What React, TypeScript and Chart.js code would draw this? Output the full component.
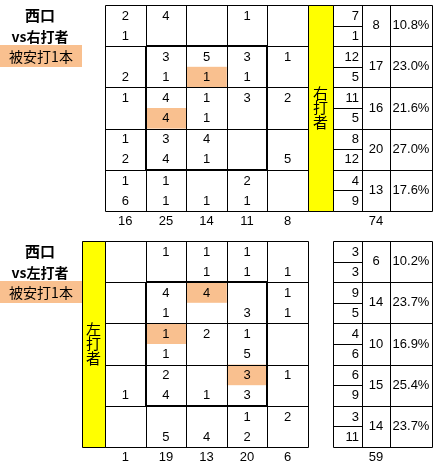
import { useEffect, useRef } from "react"
import { Chart, registerables } from "chart.js"

Chart.register(...registerables)

const W = 438
const H = 468

// vs 右打者 : upper / lower count in each zone cell (0 = blank)
const rUpper = [
  [2, 4, 0, 1, 0],
  [0, 3, 5, 3, 1],
  [1, 4, 1, 3, 2],
  [1, 3, 4, 0, 0],
  [1, 1, 0, 2, 0],
]
const rLower = [
  [1, 0, 0, 0, 0],
  [2, 1, 1, 1, 0],
  [0, 4, 1, 0, 0],
  [2, 4, 1, 0, 5],
  [6, 1, 1, 1, 0],
]
// hits: [row, col, half] half 0 = upper, 1 = lower
const rHits = [[1, 2, 1], [2, 1, 1]]
const rColTotals = [16, 25, 14, 11, 8]
const rRowUpper = [7, 12, 11, 8, 4]
const rRowLower = [1, 5, 5, 12, 9]
const rRowTotals = [8, 17, 16, 20, 13]
const rRowPct = ["10.8%", "23.0%", "21.6%", "27.0%", "17.6%"]
const rTotal = 74

// vs 左打者
const lUpper = [
  [0, 1, 1, 1, 0],
  [0, 4, 4, 0, 1],
  [0, 1, 2, 1, 0],
  [0, 2, 0, 3, 1],
  [0, 0, 0, 1, 2],
]
const lLower = [
  [0, 0, 1, 1, 1],
  [0, 1, 0, 3, 1],
  [0, 1, 0, 5, 0],
  [1, 4, 1, 3, 0],
  [0, 5, 4, 2, 0],
]
const lHits = [[1, 2, 0], [2, 1, 0], [3, 3, 0]]
const lColTotals = [1, 19, 13, 20, 6]
const lRowUpper = [3, 9, 4, 6, 3]
const lRowLower = [3, 5, 6, 9, 11]
const lRowTotals = [6, 14, 10, 15, 14]
const lRowPct = ["10.2%", "23.7%", "16.9%", "25.4%", "23.7%"]
const lTotal = 59

const panels = [
  {
    top: 5, yellowX: 308, name: "西口", vs: "vs右打者", hitsLabel: "被安打1本", side: "右打者",
    upper: rUpper, lower: rLower, hits: rHits, colTotals: rColTotals,
    rowUpper: rRowUpper, rowLower: rRowLower, rowTotals: rRowTotals, rowPct: rRowPct, total: rTotal,
  },
  {
    top: 241, yellowX: 82, name: "西口", vs: "vs左打者", hitsLabel: "被安打1本", side: "左打者",
    upper: lUpper, lower: lLower, hits: lHits, colTotals: lColTotals,
    rowUpper: lRowUpper, rowLower: lRowLower, rowTotals: lRowTotals, rowPct: lRowPct, total: lTotal,
  },
]

const GRID_X = 105
const CELL_W = 40.6
const CELL_H = 41.2
const TABLE_X = [333, 362, 390, 432]
const HIT_COLOR = "#f9c08f"
const NUM_FONT = "13px 'Liberation Sans', Arial, sans-serif"
const JP_FONT = "'Noto Sans CJK JP', sans-serif"

const zonePlugin = {
  id: "zone",
  afterDraw(chart: any) {
    const ctx = chart.ctx as CanvasRenderingContext2D
    const xs = chart.scales.x
    const ys = chart.scales.y
    const X = (v: number) => xs.getPixelForValue(v)
    const Y = (v: number) => ys.getPixelForValue(v)
    const L = (v: number) => Math.round(v) + 0.5

    const line = (x1: number, y1: number, x2: number, y2: number, w = 1) => {
      ctx.lineWidth = w
      ctx.beginPath()
      if (w === 1) {
        ctx.moveTo(L(X(x1)), L(Y(y1)))
        ctx.lineTo(L(X(x2)), L(Y(y2)))
      } else {
        ctx.moveTo(Math.round(X(x1)), Math.round(Y(y1)))
        ctx.lineTo(Math.round(X(x2)), Math.round(Y(y2)))
      }
      ctx.stroke()
    }
    const text = (s: string, x: number, y: number, align: CanvasTextAlign = "center") => {
      ctx.textAlign = align
      ctx.fillText(s, X(x), Y(y))
    }

    ctx.save()
    ctx.strokeStyle = "#000"
    ctx.fillStyle = "#000"
    ctx.textBaseline = "middle"

    panels.forEach((p) => {
      const top = p.top
      const bottom = top + CELL_H * 5
      const gridR = GRID_X + CELL_W * 5
      const colX = (c: number) => GRID_X + CELL_W * c
      const rowY = (r: number) => top + CELL_H * r

      // titles
      ctx.fillStyle = "#000"
      ctx.font = "bold 15px " + JP_FONT
      text(p.name, 40, top + 10)
      ctx.font = "bold 14px " + JP_FONT
      text(p.vs, 40, top + 32)
      ctx.fillStyle = HIT_COLOR
      ctx.fillRect(X(0), Y(top + 40), X(82) - X(0), Y(top + 62) - Y(top + 40))
      ctx.fillStyle = "#000"
      ctx.font = "14px " + JP_FONT
      text(p.hitsLabel, 41, top + 51.5)

      // hit highlights
      ctx.fillStyle = HIT_COLOR
      p.hits.forEach(([r, c, h]) => {
        const y0 = rowY(r) + (CELL_H / 2) * h
        ctx.fillRect(X(colX(c)), Y(y0), X(colX(c + 1)) - X(colX(c)), Y(y0 + CELL_H / 2) - Y(y0))
      })

      // yellow side column
      ctx.fillStyle = "#ffff00"
      const yx0 = p.yellowX
      const yx1 = p.yellowX + (p.yellowX === 82 ? 23 : 25)
      ctx.fillRect(X(yx0), Y(top), X(yx1) - X(yx0), Y(bottom) - Y(top))
      line(yx0, top, yx0, bottom)
      line(yx1, top, yx1, bottom)
      line(yx0, top, yx1, top)
      line(yx0, bottom, yx1, bottom)
      ctx.fillStyle = "#000"
      ctx.font = "15px " + JP_FONT
      const midY = (top + bottom) / 2
      Array.from(p.side).forEach((ch, i) => text(ch, (yx0 + yx1) / 2, midY - 15 + i * 14.5))

      // grid lines
      for (let r = 0; r <= 5; r++) line(GRID_X, rowY(r), gridR, rowY(r))
      for (let c = 0; c <= 5; c++) line(colX(c), top, colX(c), bottom)
      // strike zone box
      line(colX(1), rowY(1), colX(4), rowY(1), 2)
      line(colX(1), rowY(4), colX(4), rowY(4), 2)
      line(colX(1), rowY(1), colX(1), rowY(4), 2)
      line(colX(4), rowY(1), colX(4), rowY(4), 2)

      // cell numbers
      ctx.font = NUM_FONT
      for (let r = 0; r < 5; r++) {
        for (let c = 0; c < 5; c++) {
          const cx = colX(c) + CELL_W / 2
          if (p.upper[r][c]) text(String(p.upper[r][c]), cx, rowY(r) + CELL_H * 0.27)
          if (p.lower[r][c]) text(String(p.lower[r][c]), cx, rowY(r) + CELL_H * 0.76)
        }
      }
      // column totals
      p.colTotals.forEach((v, c) => text(String(v), colX(c) + CELL_W / 2, bottom + 10))

      // right table
      const [t0, t1, t2, t3] = TABLE_X
      for (let r = 0; r <= 5; r++) line(t0, rowY(r), t3, rowY(r))
      TABLE_X.forEach((x) => line(x, top, x, bottom))
      for (let r = 0; r < 5; r++) {
        const y = rowY(r)
        line(t0, y + CELL_H / 2, t1, y + CELL_H / 2)
        text(String(p.rowUpper[r]), t1 - 3, y + CELL_H * 0.27, "right")
        text(String(p.rowLower[r]), t1 - 3, y + CELL_H * 0.76, "right")
        text(String(p.rowTotals[r]), (t1 + t2) / 2, y + CELL_H / 2)
        text(p.rowPct[r], (t2 + t3) / 2, y + CELL_H / 2)
      }
      text(String(p.total), (t1 + t2) / 2, bottom + 10)
    })
    ctx.restore()
  },
}

const App = () => {
  const canvasRef = useRef<HTMLCanvasElement | null>(null)

  useEffect(() => {
    if (!canvasRef.current) return
    const chart = new Chart(canvasRef.current, {
      type: "scatter",
      data: { datasets: [] },
      options: {
        animation: false,
        responsive: true,
        maintainAspectRatio: false,
        layout: { padding: 0 },
        plugins: { legend: { display: false }, tooltip: { enabled: false } },
        scales: {
          x: { type: "linear", min: 0, max: W, display: false },
          y: { type: "linear", min: 0, max: H, reverse: true, display: false },
        },
      },
      plugins: [zonePlugin],
    })
    return () => chart.destroy()
  }, [])

  return (
    <div style={{ position: "fixed", left: 0, top: 0, width: W, height: H, background: "#fff" }}>
      <canvas ref={canvasRef} />
    </div>
  )
}

export default App
